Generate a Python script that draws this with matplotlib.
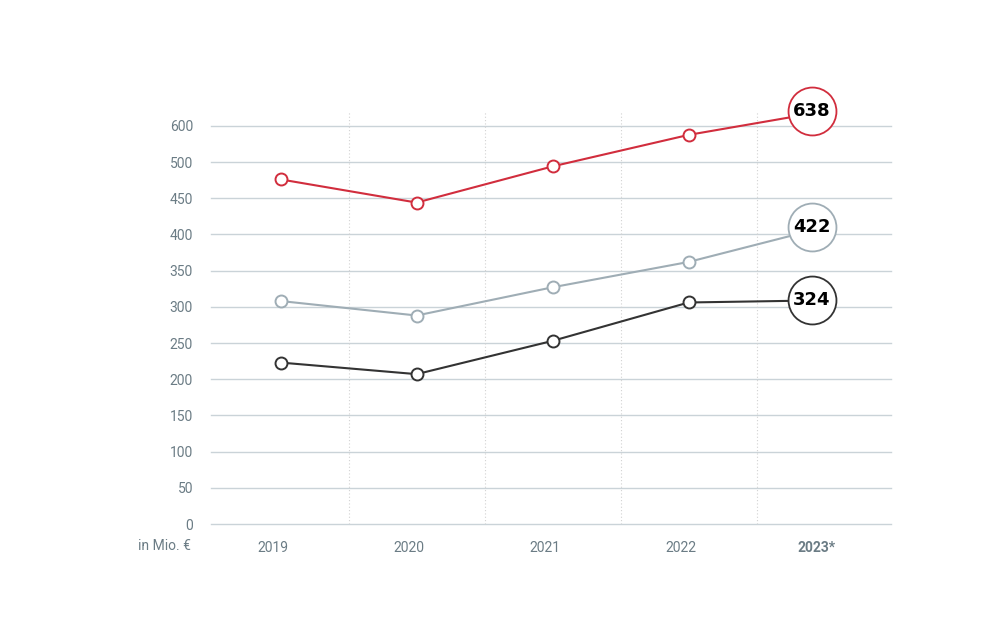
import numpy as np
import matplotlib
matplotlib.use("Agg")
import matplotlib.pyplot as plt
from matplotlib.transforms import ScaledTranslation

# ---- data ----
years = ["2019", "2020", "2021", "2022", "2023*"]
series_red = [476, 444, 494, 575, 640]
series_gray = [308, 288, 327, 362, 410]
series_black = [223, 207, 253, 306, 309]
end_labels = ["638", "422", "324"]
y_ticks = [0, 50, 100, 150, 200, 250, 300, 350, 400, 450, 500, 600]
unit_label = "in Mio. €"

RED = "#d12d3d"
GRAY = "#9fadb5"
BLACK = "#333333"
GRID = "#cad3d8"
TXT = "#6b7c85"

plt.rcParams['font.family'] = ['Roboto', 'DejaVu Sans']

def fwd(v):
    v = np.asarray(v, dtype=float)
    return np.where(v <= 500, v, 500 + (v - 500) / 2)

def inv(t):
    t = np.asarray(t, dtype=float)
    return np.where(t <= 500, t, 500 + (t - 500) * 2)

fig = plt.figure(figsize=(10, 6.25), dpi=100)
ax = fig.add_axes([0.211, 0.1616, 0.68, 0.6608])
ax.set_yscale('function', functions=(fwd, inv))
ax.set_ylim(0, 641)
ax.set_xlim(-0.512, 4.488)

for s in ax.spines.values():
    s.set_visible(False)

ax.set_yticks(y_ticks)
ax.set_yticklabels([str(t) for t in y_ticks])
ax.yaxis.set_minor_locator(matplotlib.ticker.NullLocator())
ax.tick_params(axis='y', length=0, pad=13, labelsize=10, labelcolor=TXT)
for t in y_ticks:
    ax.axhline(t, color=GRID, lw=1.0, zorder=1, clip_on=False)

x = np.arange(len(years))
ax.set_xticks(x)
ax.set_xticklabels(years)
ax.tick_params(axis='x', length=0, pad=12, labelsize=10, labelcolor=TXT)
for lab in ax.get_xticklabels():
    lab.set_transform(lab.get_transform() + ScaledTranslation(-8 / 100, 0, fig.dpi_scale_trans))
ax.get_xticklabels()[-1].set_fontweight('bold')

for b in x[:-1] + 0.5:
    ax.axvline(b, color="#d2d2d2", lw=0.8, ls=(0, (1, 2)), zorder=1)

offs = ScaledTranslation(-13 / 100, 0, fig.dpi_scale_trans)
for vals, col, lab in [(series_red, RED, end_labels[0]),
                       (series_gray, GRAY, end_labels[1]),
                       (series_black, BLACK, end_labels[2])]:
    ax.plot(x, vals, color=col, lw=1.5, zorder=3)
    ax.plot(x[:-1], vals[:-1], 'o', ms=8.6, mfc='white', mec=col, mew=1.4,
            zorder=4)
    ax.plot([x[-1]], [vals[-1]], 'o', ms=34.5, mfc='white', mec=col, mew=1.3,
            zorder=5, clip_on=False, transform=ax.transData + offs)
    ax.text(x[-1], vals[-1], lab, ha='center', va='center', fontsize=13,
            fontweight='bold', color='black', family='DejaVu Sans',
            zorder=6, transform=ax.transData + offs)

fig.text(0.191, 0.1264, unit_label, ha='right', va='center', fontsize=10,
         color=TXT)

fig.savefig("out.png", dpi=100, facecolor='white')
